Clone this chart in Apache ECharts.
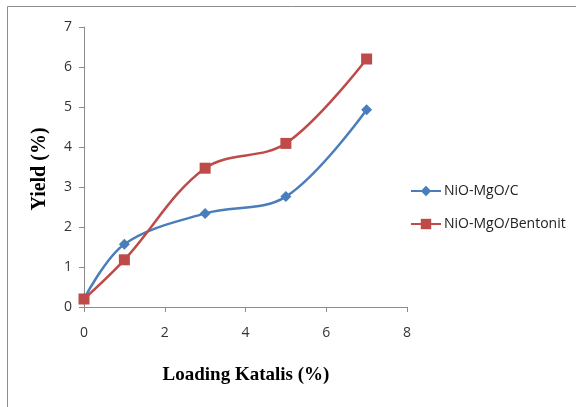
<!DOCTYPE html>
<html><head><meta charset="utf-8">
<script src="https://cdn.jsdelivr.net/npm/echarts@6/dist/echarts.min.js"></script>
<style>html,body{margin:0;padding:0;background:#fff}#c{width:576px;height:407px}</style>
</head><body><div id="c"></div>
<script>
const xValues = [0, 1, 3, 5, 7];
const seriesNames = ['NiO-MgO/C', 'NiO-MgO/Bentonit'];
const yieldC = [0.2, 1.57, 2.34, 2.76, 4.93];
const yieldBentonit = [0.2, 1.18, 3.47, 4.09, 6.2];
const xTitle = 'Loading Katalis (%)';
const yTitle = 'Yield (%)';

const chart = echarts.init(document.getElementById('c'));
const pair = (ys) => xValues.map((x, i) => [x, ys[i]]);
const axisLineStyle = { color: '#8c8c8c', width: 1 };
chart.setOption({
  animation: false,
  grid: { left: 84, right: 169, top: 27, bottom: 100 },
  graphic: [
    { type: 'polyline', shape: { points: [[7.5, 407], [7.5, 6.5], [576, 6.5]] }, style: { stroke: '#8c8c8c', lineWidth: 1, fill: null } },
    { type: 'text', x: 246, y: 375, style: { text: xTitle, font: 'bold 19px "Liberation Serif"', fill: '#000', align: 'center', verticalAlign: 'middle' } },
    { type: 'text', rotation: Math.PI / 2, x: 40, y: 169, style: { text: yTitle, font: 'bold 20px "Liberation Serif"', fill: '#000', align: 'center', verticalAlign: 'middle' } }
  ],
  xAxis: {
    type: 'value', min: 0, max: 8, interval: 2,
    axisLine: { lineStyle: axisLineStyle },
    axisTick: { show: true, length: 5, lineStyle: axisLineStyle },
    splitLine: { show: false },
    axisLabel: { color: '#333', fontSize: 14, fontFamily: 'Open Sans', margin: 19 }
  },
  yAxis: {
    type: 'value', min: 0, max: 7, interval: 1,
    axisLine: { show: true, lineStyle: axisLineStyle },
    axisTick: { show: true, length: 5, lineStyle: axisLineStyle },
    splitLine: { show: false },
    axisLabel: { color: '#333', fontSize: 14, fontFamily: 'Open Sans', margin: 12 }
  },
  legend: {
    orient: 'vertical', left: 410, top: 184, padding: 0, itemGap: 19, itemWidth: 30, itemHeight: 13,
    textStyle: { fontSize: 14, fontFamily: 'Open Sans', color: '#222', padding: [0, 0, 0, -2] },
    data: seriesNames
  },
  series: [
    { name: seriesNames[0], type: 'line', smooth: 0.35, data: pair(yieldC),
      symbol: 'diamond', symbolSize: 11, lineStyle: { color: '#4a7ebb', width: 2.5 }, itemStyle: { color: '#4a7ebb' } },
    { name: seriesNames[1], type: 'line', smooth: 0.35, data: pair(yieldBentonit),
      symbol: 'rect', symbolSize: 11, lineStyle: { color: '#be4b48', width: 2.5 }, itemStyle: { color: '#be4b48' } }
  ]
});
</script></body></html>
